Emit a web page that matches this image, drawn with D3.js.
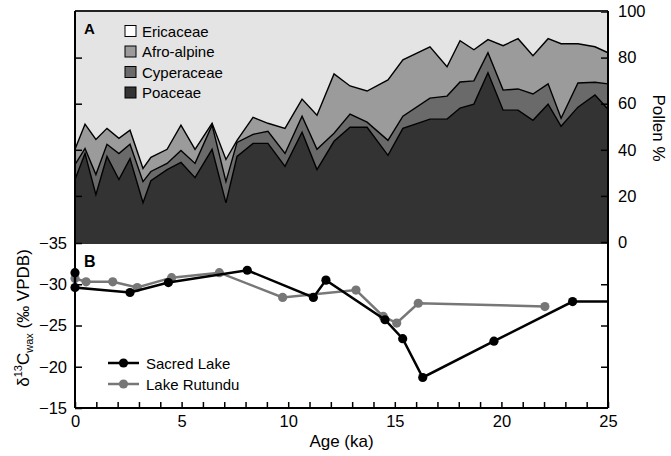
<!DOCTYPE html>
<html>
<head>
<meta charset="utf-8">
<script src="https://cdn.jsdelivr.net/npm/d3@7"></script>
<style>
  body { margin: 0; background: #fff; }
  svg { font-family: 'Liberation Sans', Arial, sans-serif; }
</style>
</head>
<body>
<div id="chart"></div>
<script>
// panel A - pollen percentages by age (ka)
let pollenAge = [0, 0.47, 0.98, 1.5, 2.06, 2.58, 3.19, 3.56, 4.32, 4.97, 5.63, 6.43, 7.08, 7.6, 8.35, 9.05, 9.85,
  10.65, 11.35, 12.15, 12.9, 13.7, 14.68, 15.38, 16.65, 17.45, 18.06, 18.71, 19.37, 20.08, 20.78, 21.48,
  22.19, 22.8, 23.59, 24.39, 25];
let poaceae = [27.1, 38.4, 20.5, 37.1, 27.1, 36.2, 17.0, 26.6, 31.4, 34.5, 27.9, 40.2, 17.0, 37.1, 42.8, 42.8, 32.8,
  47.6, 31.4, 43.7, 49.8, 49.8, 37.6, 49.3, 53.3, 53.3, 58.1, 59.8, 73.4, 57.2, 57.2, 52.8,
  59.8, 50.2, 58.5, 63.8, 57.6];
let cyperaceae = [6.5, 2.2, 8.8, 5.3, 11.3, 6.2, 9.2, 4.0, 2.7, 5.2, 6.2, 10.5, 9.2, 6.1, 3.9, 5.2, 5.6,
  7.0, 8.8, 3.5, 5.7, 2.2, 6.5, 5.3, 9.1, 10.0, 11.3, 10.1, 8.7, 8.7, 9.2, 11.4,
  8.8, 3.5, 10.5, 5.5, 11.0];
let afroalpine = [6.6, 10.5, 15.2, 6.9, 6.6, 6.1, 5.7, 6.1, 6.1, 11.0, 6.1, 0.8, 9.6, 0.9, 7.4, 3.5, 10.9,
  7.4, 14.8, 25.7, 12.2, 13.5, 26.2, 24.4, 22.3, 12.7, 17.9, 13.5, 5.7, 19.3, 21.8, 16.6,
  19.6, 32.3, 17.0, 15.4, 13.5];
let taxa = ['Poaceae', 'Cyperaceae', 'Afro-alpine'];
let legendTaxa = ['Ericaceae', 'Afro-alpine', 'Cyperaceae', 'Poaceae'];
let pollenTicks = [0, 20, 40, 60, 80, 100];

// panel B - d13C wax
let sacredAge = [0, 0, 2.58, 4.38, 8.08, 11.18, 11.77, 14.54, 15.37, 16.31, 19.65, 23.34];
let sacredD13C = [-31.4, -29.6, -29.0, -30.2, -31.7, -28.4, -30.5, -25.7, -23.4, -18.7, -23.1, -27.9];
let rutunduAge = [0, 0.52, 1.77, 2.92, 4.53, 6.77, 9.74, 13.18, 14.46, 15.09, 16.1, 22.04];
let rutunduD13C = [-30.7, -30.3, -30.3, -29.6, -30.8, -31.4, -28.4, -29.3, -26.1, -25.3, -27.7, -27.3];
let d13cTicks = [-35, -30, -25, -20, -15];
let ageMax = 25;

let colours = { 'Ericaceae': '#e4e4e4', 'Afro-alpine': '#9b9b9b', 'Cyperaceae': '#6a6a6a', 'Poaceae': '#333333' };

let width = 671;
let height = 456;
let left = 75, right = 608, topA = 11, botA = 243, botB = 408;

let svg = d3.select('#chart').append('svg').attr('width', width).attr('height', height);

let x = d3.scaleLinear().domain([0, ageMax]).range([left, right]);
let yA = d3.scaleLinear().domain([0, 100]).range([242, 11.5]);
let yB = d3.scaleLinear().domain([-35, -15]).range([botA, botB]);

//panel A background (Ericaceae makes up the rest)
svg.append('rect').attr('x', left).attr('y', topA).attr('width', right - left).attr('height', botA - topA)
  .attr('fill', colours['Ericaceae']);

let rows = pollenAge.map((a, i) => ({ age: a, 'Poaceae': poaceae[i], 'Cyperaceae': cyperaceae[i], 'Afro-alpine': afroalpine[i] }));
let stacked = d3.stack().keys(taxa)(rows);

let area = d3.area().x(d => x(d.data.age)).y0(d => yA(d[0])).y1(d => yA(d[1]));
let topLine = d3.line().x(d => x(d.data.age)).y(d => yA(d[1]));

//draw top layer first so lower ones sit over it
stacked.slice().reverse().forEach(s => {
  svg.append('path').attr('d', area(s)).attr('fill', colours[s.key]);
});
stacked.forEach(s => {
  svg.append('path').attr('d', topLine(s)).attr('fill', 'none').attr('stroke', '#000').attr('stroke-width', 1.4)
    .attr('stroke-linejoin', 'miter');
});
// little strip under zero so the dark fill meets panel B
svg.append('rect').attr('x', left).attr('y', yA(0)).attr('width', right - left).attr('height', botA - yA(0) + 1)
  .attr('fill', colours['Poaceae']);

//panel A axes
let gAL = svg.append('g').attr('transform', `translate(${left},0)`)
  .call(d3.axisLeft(yA).tickValues([20, 40, 60, 80]).tickSize(-7).tickSizeOuter(0).tickFormat(''));
let gAR = svg.append('g').attr('transform', `translate(${right},0)`)
  .call(d3.axisRight(yA).tickValues(pollenTicks).tickSize(-7).tickSizeOuter(0).tickPadding(10));

//panel B axes
let gBL = svg.append('g').attr('transform', `translate(${left},0)`)
  .call(d3.axisLeft(yB).tickValues(d13cTicks).tickSize(-7).tickSizeOuter(0).tickPadding(8).tickFormat(d3.format('d')));
let gBR = svg.append('g').attr('transform', `translate(${right},0)`)
  .call(d3.axisRight(yB).tickValues([-30, -25, -20]).tickSize(-7).tickSizeOuter(0).tickFormat(''));
let gX = svg.append('g').attr('transform', `translate(0,${botB})`)
  .call(d3.axisBottom(x).tickValues(d3.range(0, ageMax + 1, 1)).tickSize(-6).tickSizeOuter(0).tickPadding(5)
    .tickFormat(d => d % 5 === 0 ? d : ''));

[gAL, gAR, gBL, gBR, gX].forEach(g => {
  g.select('.domain').remove();
  g.selectAll('.tick line').attr('stroke', '#000').attr('stroke-width', 1.5);
  g.selectAll('.tick text').attr('fill', '#000').style('font-size', '16.5px').style('font-family', 'Liberation Sans, Arial, sans-serif');
});
gX.selectAll('.tick text').attr('dy', '0.85em');

//frame
svg.append('line').attr('x1', left).attr('x2', right).attr('y1', topA).attr('y2', topA).attr('stroke', '#222').attr('stroke-width', 2);
svg.append('line').attr('x1', left).attr('x2', left).attr('y1', topA).attr('y2', botB).attr('stroke', '#000').attr('stroke-width', 2);
svg.append('line').attr('x1', right).attr('x2', right).attr('y1', topA).attr('y2', botB).attr('stroke', '#000').attr('stroke-width', 2);
svg.append('line').attr('x1', left).attr('x2', right).attr('y1', botB).attr('y2', botB).attr('stroke', '#000').attr('stroke-width', 2);

//panel B lines
let line = d3.line().x(d => x(d[0])).y(d => yB(d[1]));
let rutundu = rutunduAge.map((a, i) => [a, rutunduD13C[i]]);
let sacred = sacredAge.map((a, i) => [a, sacredD13C[i]]);
// sacred lake line runs on flat to the end of the axis
let sacredLine = sacred.concat([[ageMax, sacredD13C[sacredD13C.length - 1]]]);

svg.append('path').attr('d', line(rutundu)).attr('fill', 'none').attr('stroke', '#777').attr('stroke-width', 2.5);
svg.selectAll('.rut').data(rutundu).enter().append('circle').attr('class', 'rut')
  .attr('cx', d => x(d[0])).attr('cy', d => yB(d[1])).attr('r', 4.6).attr('fill', '#777');
svg.append('path').attr('d', line(sacredLine)).attr('fill', 'none').attr('stroke', '#000').attr('stroke-width', 2.5);
svg.selectAll('.sac').data(sacred).enter().append('circle').attr('class', 'sac')
  .attr('cx', d => x(d[0])).attr('cy', d => yB(d[1])).attr('r', 4.6).attr('fill', '#000');

//panel letters
svg.append('text').text('A').attr('x', 84).attr('y', 34).style('font-size', '15px').style('font-weight', 'bold');
svg.append('text').text('B').attr('x', 84).attr('y', 267).style('font-size', '16px').style('font-weight', 'bold');

//legend A
legendTaxa.forEach((t, i) => {
  let ly = 31 + i * 20.5;
  svg.append('rect').attr('x', 125).attr('y', ly - 5.5).attr('width', 11).attr('height', 11)
    .attr('fill', t === 'Ericaceae' ? '#fff' : colours[t]).attr('stroke', '#000').attr('stroke-width', 1);
  svg.append('text').text(t).attr('x', 142).attr('y', ly + 5.5).style('font-size', '15px');
});

//legend B
[['Sacred Lake', '#000', 363], ['Lake Rutundu', '#777', 384]].forEach(l => {
  svg.append('line').attr('x1', 108).attr('x2', 139).attr('y1', l[2]).attr('y2', l[2]).attr('stroke', l[1]).attr('stroke-width', 2.5);
  svg.append('circle').attr('cx', 123.5).attr('cy', l[2]).attr('r', 4.6).attr('fill', l[1]);
  svg.append('text').text(l[0]).attr('x', 146).attr('y', l[2] + 5.5).style('font-size', '15px');
});

//axis titles
svg.append('text').text('Age (ka)').attr('x', (left + right) / 2).attr('y', 447).attr('text-anchor', 'middle').style('font-size', '17px');
svg.append('text').text('Pollen %').attr('transform', 'translate(653,128) rotate(90)').attr('text-anchor', 'middle').style('font-size', '17px');

let yl = svg.append('text').attr('transform', 'translate(29,318) rotate(-90)').attr('text-anchor', 'middle').style('font-size', '17px');
yl.append('tspan').text('\u03B4');
yl.append('tspan').text('13').attr('dy', -7).style('font-size', '11px');
yl.append('tspan').text('C').attr('dy', 7);
yl.append('tspan').text('wax').attr('dy', 4).style('font-size', '11px');
yl.append('tspan').text(' (\u2030 VPDB)').attr('dy', -4);
</script>
</body>
</html>
